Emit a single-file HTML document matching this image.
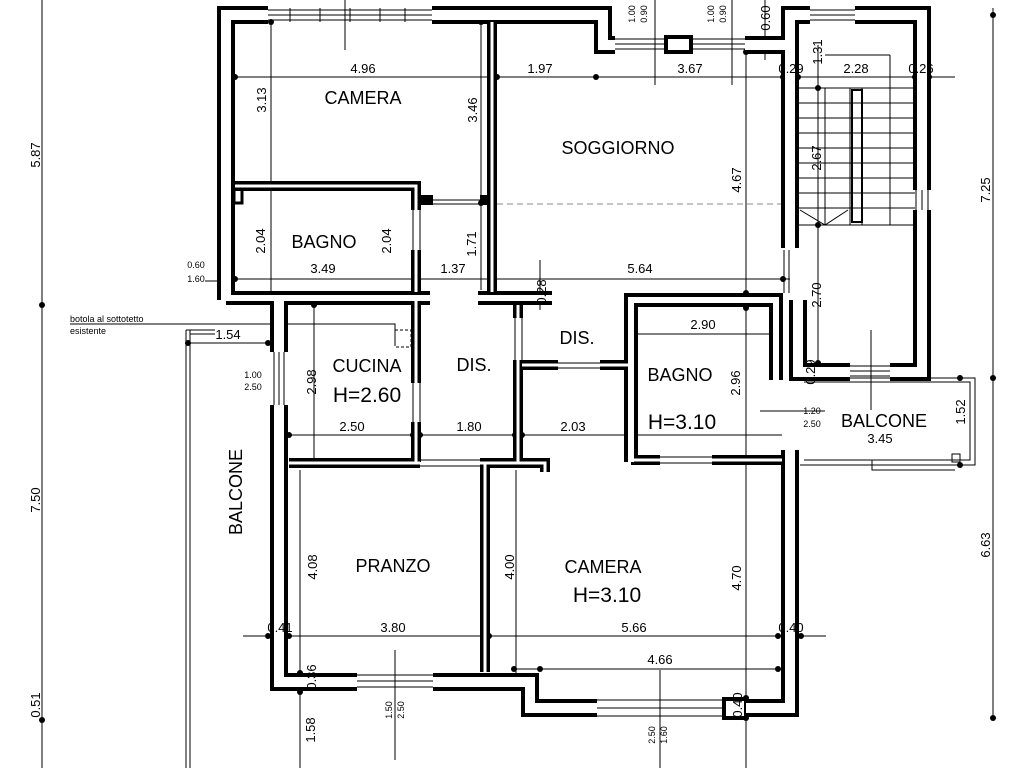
<!DOCTYPE html>
<html><head><meta charset="utf-8"><style>
html,body{margin:0;padding:0;background:#fff;width:1024px;height:768px;overflow:hidden}
svg{display:block}
text{font-family:"Liberation Sans",sans-serif;fill:#000}
.w{fill:none;stroke:#000;stroke-linejoin:miter;stroke-linecap:butt}
.wi{fill:none;stroke:#fff;stroke-linejoin:miter;stroke-linecap:butt}
.d{stroke:#000;stroke-width:1;fill:none}
.g{stroke:#888;stroke-width:1;fill:none}
.t{font-size:13px}
.L{font-size:18px}
.s{font-size:9px}
</style></head><body>
<svg width="1024" height="768" viewBox="0 0 1024 768" xmlns="http://www.w3.org/2000/svg">
<!-- balconies -->
<path class="d" d="M186 330 V768 M190 330 V768 M186 330 H215 M190 334 H215"/>
<path class="d" d="M800 378 H975 V465 H800 M804 382 H970 V460 H804 M872 460 V470 H955"/>
<rect x="952" y="454" width="8" height="8" class="d" stroke-width="2"/>
<!-- dimension lines -->
<path class="d" d="M42 0 V768 M993 8 V718 M235 77 H955 M271 20 V300 M481 22 V290 M746 50 V462 M220 279 H790 M188 343 H268 M70 324 H395 V345 M289 435 H782 M631 334 H779 M243 636 H826 M514 669 H780 M314 305 V462 M818 45 V370 M300 470 V768 M516 470 V690 M746 462 V768 M871 330 V410 M395 650 V760 M660 670 V768 M233 281 H205 M540 260 V310 M765 0 V60 M655 0 V85 M732 0 V85 M345 0 V50 M760 411 H825"/>
<path class="g" d="M497 204 H790" stroke-dasharray="6,4"/>
<rect x="395" y="330" width="16" height="17" class="d" stroke-dasharray="3,2"/>
<g fill="#000">
<circle cx="42" cy="305" r="3"/><circle cx="42" cy="720" r="3"/><circle cx="993" cy="15" r="3"/><circle cx="993" cy="378" r="3"/><circle cx="993" cy="718" r="3"/>
<circle cx="235" cy="77" r="3"/><circle cx="491" cy="77" r="3"/><circle cx="497" cy="77" r="3"/><circle cx="596" cy="77" r="3"/><circle cx="783" cy="77" r="3"/><circle cx="798" cy="77" r="3"/><circle cx="915" cy="77" r="3"/><circle cx="929" cy="77" r="3"/>
<circle cx="271" cy="22" r="3"/><circle cx="271" cy="184" r="3"/><circle cx="481" cy="22" r="3"/><circle cx="481" cy="203" r="3"/><circle cx="746" cy="52" r="3"/><circle cx="746" cy="293" r="3"/><circle cx="746" cy="308" r="3"/><circle cx="746" cy="460" r="3"/>
<circle cx="235" cy="279" r="3"/><circle cx="416" cy="279" r="3"/><circle cx="491" cy="279" r="3"/><circle cx="783" cy="279" r="3"/>
<circle cx="188" cy="343" r="3"/><circle cx="268" cy="343" r="3"/>
<circle cx="289" cy="435" r="3"/><circle cx="413" cy="435" r="3"/><circle cx="420" cy="435" r="3"/><circle cx="515" cy="435" r="3"/><circle cx="522" cy="435" r="3"/><circle cx="627" cy="435" r="3"/>
<circle cx="631" cy="334" r="3"/><circle cx="779" cy="334" r="3"/><circle cx="818" cy="88" r="3"/><circle cx="818" cy="225" r="3"/><circle cx="818" cy="363" r="3"/><circle cx="818" cy="378" r="3"/>
<circle cx="268" cy="636" r="3"/><circle cx="289" cy="636" r="3"/><circle cx="483" cy="636" r="3"/><circle cx="489" cy="636" r="3"/><circle cx="778" cy="636" r="3"/><circle cx="801" cy="636" r="3"/>
<circle cx="514" cy="669" r="3"/><circle cx="540" cy="669" r="3"/><circle cx="778" cy="669" r="3"/>
<circle cx="300" cy="673" r="3"/><circle cx="300" cy="692" r="3"/><circle cx="746" cy="698" r="3"/><circle cx="746" cy="718" r="3"/>
<circle cx="314" cy="305" r="3"/><circle cx="314" cy="462" r="3"/><circle cx="300" cy="462" r="3"/><circle cx="516" cy="462" r="3"/><circle cx="740" cy="462" r="3"/>
<circle cx="960" cy="378" r="3"/><circle cx="960" cy="465" r="3"/>
</g>
<!-- stairs -->
<g class="d">
<path d="M798 88 H915 M798 103 H915 M798 118 H915 M798 133 H915 M798 148 H915 M798 163 H915 M798 178 H915 M798 193 H915 M798 208 H915 M798 225 H915 M825 88 V225 M850 88 V225 M862 88 V225 M890 55 V225 M825 55 H890"/>
<rect x="852" y="90" width="10" height="132" stroke-width="2"/>
<path d="M800 210 L825 225 L848 210"/>
</g>
<!-- windows -->
<g class="d">
<path d="M268 10 H432 M268 15 H432 M268 20 H432 M290 8 V22 M320 8 V22 M350 8 V22 M380 8 V22 M405 8 V22"/>
<path d="M615 39 H745 M615 44 H745 M615 49 H745"/>
<path d="M810 10 H855 M810 15 H855 M810 20 H855"/>
<path d="M916 190 V210 M922 190 V210 M928 190 V210"/>
<path d="M850 366 H890 M850 371 H890 M850 376 H890"/>
<path d="M274 352 V405 M279 352 V405 M284 352 V405"/>
<path d="M357 675 H433 M357 681 H433 M357 687 H433"/>
<path d="M597 700 H723 M597 708 H723 M597 716 H723"/>
<path d="M220 265 V298 M226 265 V298 M232 265 V298"/>
<path d="M413 210 V250 M420 210 V250 M433 200 H480 M433 204 H480"/>
<path d="M413 383 V422 M420 383 V422 M515 318 V360 M522 318 V360 M558 363 H600 M558 368 H600 M420 460 H480 M420 466 H480 M660 457 H712 M660 463 H712 M784 250 V293 M789 250 V293"/>
</g>
<rect x="666" y="37" width="25" height="15" fill="#fff" stroke="#000" stroke-width="4"/>
<rect x="724" y="699" width="22" height="19" fill="#fff" stroke="#000" stroke-width="4"/>
<rect x="234" y="189" width="8" height="14" fill="#fff" stroke="#000" stroke-width="3"/>
<!-- walls: black then white -->
<g id="walls">
<g class="w" stroke-width="18">
<path d="M226 300 V15 H268 M432 15 H603 V45 H615 M745 45 H790 M790 248 V15 H810 M855 15 H922 V190 M922 210 V372 H890 M850 372 H798 V300"/>
<path d="M279 298 V352 M279 405 V682 H357 M433 682 H530 V708 H597 M746 708 H790 V450"/>
</g>
<g class="w" stroke-width="14">
<path d="M226 298 H430 M478 298 H552"/>
<path d="M631 462 V300 H776 V380"/>
</g>
<g class="w" stroke-width="10">
<path d="M492 22 V292 M235 186 H416 V210 M416 250 V292 M416 300 V383 M416 422 V462 M289 463 H420 M480 463 H545 V472 M485 463 V672 M518 305 V318 M518 360 V462 M522 365 H558 M600 365 H631 M631 460 H660 M712 460 H782 M480 200 H497 M420 200 H433"/>
</g>
<g class="wi" stroke-width="10">
<path d="M226 300 V15 H268 M432 15 H603 V45 H615 M745 45 H790 M790 248 V15 H810 M855 15 H922 V190 M922 210 V372 H890 M850 372 H798 V300"/>
<path d="M279 298 V352 M279 405 V682 H357 M433 682 H530 V708 H597 M746 708 H790 V450"/>
</g>
<g class="wi" stroke-width="6">
<path d="M226 298 H430 M478 298 H552"/>
<path d="M631 462 V300 H776 V380"/>
</g>
<g class="wi" stroke-width="3">
<path d="M492 22 V292 M235 186 H416 V210 M416 250 V292 M416 300 V383 M416 422 V462 M289 463 H420 M480 463 H545 V472 M485 463 V672 M518 305 V318 M518 360 V462 M522 365 H558 M600 365 H631 M631 460 H660 M712 460 H782"/>
</g>
</g>
<!-- room labels -->
<g class="L" text-anchor="middle">
<text x="363" y="104">CAMERA</text>
<text x="618" y="154">SOGGIORNO</text>
<text x="324" y="248">BAGNO</text>
<text x="577" y="344">DIS.</text>
<text x="474" y="371">DIS.</text>
<text x="367" y="372">CUCINA</text>
<text x="367" y="402" font-size="21">H=2.60</text>
<text x="680" y="381">BAGNO</text>
<text x="682" y="429" font-size="21">H=3.10</text>
<text x="884" y="427">BALCONE</text>
<text x="393" y="572">PRANZO</text>
<text x="603" y="573">CAMERA</text>
<text x="607" y="602" font-size="21">H=3.10</text>
<text transform="translate(242,492) rotate(-90)">BALCONE</text>
</g>
<!-- dims -->
<g class="t" text-anchor="middle">
<text x="363" y="73">4.96</text><text x="540" y="73">1.97</text><text x="690" y="73">3.67</text><text x="791" y="73">0.29</text><text x="856" y="73">2.28</text><text x="921" y="73">0.26</text>
<text x="323" y="273">3.49</text><text x="453" y="273">1.37</text><text x="640" y="273">5.64</text>
<text x="228" y="339">1.54</text>
<text x="352" y="431">2.50</text><text x="469" y="431">1.80</text><text x="573" y="431">2.03</text>
<text x="703" y="329">2.90</text><text x="880" y="443">3.45</text>
<text x="280" y="632">0.41</text><text x="393" y="632">3.80</text><text x="634" y="632">5.66</text><text x="791" y="632">0.40</text>
<text x="660" y="664">4.66</text>
<g transform="rotate(-90)">
<text x="-155" y="40">5.87</text><text x="-500" y="40">7.50</text><text x="-705" y="40">0.51</text>
<text x="-190" y="990">7.25</text><text x="-545" y="990">6.63</text>
<text x="-100" y="266">3.13</text><text x="-110" y="477">3.46</text><text x="-180" y="741">4.67</text><text x="-158" y="821">2.67</text>
<text x="-241" y="265">2.04</text><text x="-241" y="391">2.04</text><text x="-244" y="476">1.71</text>
<text x="-292" y="546">0.28</text><text x="-295" y="821">2.70</text><text x="-382" y="316">2.98</text>
<text x="-383" y="740">2.96</text><text x="-372" y="815">0.29</text><text x="-412" y="965">1.52</text>
<text x="-567" y="317">4.08</text><text x="-567" y="514">4.00</text><text x="-578" y="741">4.70</text>
<text x="-677" y="316">0.36</text><text x="-730" y="315">1.58</text><text x="-705" y="742">0.40</text>
<text x="-18" y="770">0.60</text><text x="-52" y="822">1.31</text>
</g>
</g>
<g class="s" text-anchor="middle" font-size="10">
<text x="196" y="268">0.60</text><text x="196" y="282">1.60</text>
<text x="253" y="378">1.00</text><text x="253" y="390">2.50</text>
<text x="812" y="414">1.20</text><text x="812" y="427">2.50</text>
<g transform="rotate(-90)">
<text x="-14" y="635">1.00</text><text x="-14" y="647">0.90</text>
<text x="-14" y="714">1.00</text><text x="-14" y="726">0.90</text>
<text x="-710" y="392">1.50</text><text x="-710" y="404">2.50</text>
<text x="-735" y="655">2.50</text><text x="-735" y="667">1.60</text>
</g>
</g>
<text x="70" y="322" class="s">botola al sottotetto</text>
<text x="70" y="334" class="s">esistente</text>
</svg>
</body></html>
